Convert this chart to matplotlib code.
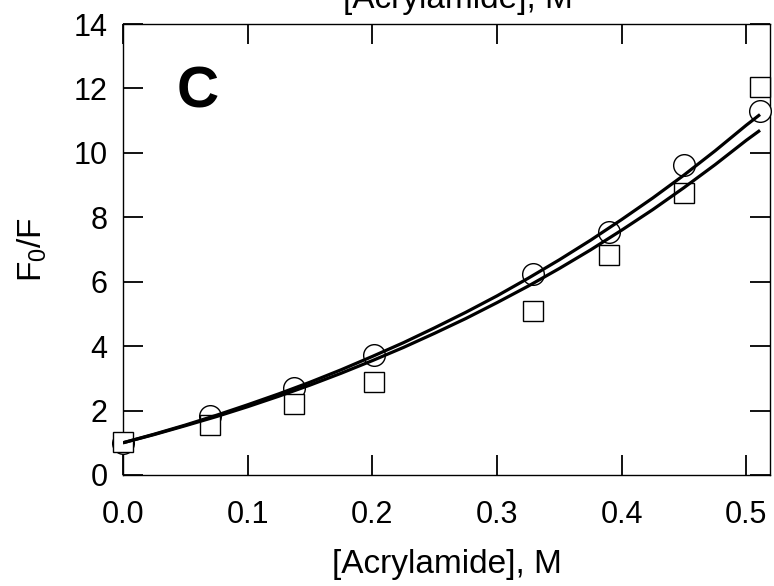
import matplotlib
matplotlib.use("Agg")
import matplotlib.pyplot as plt

plt.rcParams['font.family'] = ['Liberation Sans', 'DejaVu Sans']
plt.rcParams['mathtext.fontset'] = 'custom'
plt.rcParams['mathtext.rm'] = 'Liberation Sans'

# Data
conc = [0.0, 0.07, 0.137, 0.201, 0.329, 0.39, 0.45, 0.511]
circles = [1.0, 1.84, 2.71, 3.72, 6.25, 7.55, 9.63, 11.3]
squares = [1.02, 1.55, 2.19, 2.88, 5.1, 6.84, 8.75, 12.05]

fit_x = [0.0, 0.025, 0.05, 0.075, 0.1, 0.125, 0.15, 0.175, 0.2, 0.225, 0.25,
         0.275, 0.3, 0.325, 0.35, 0.375, 0.4, 0.425, 0.45, 0.475, 0.5, 0.511]
fit_upper = [1.0, 1.267, 1.55, 1.855, 2.18, 2.519, 2.88, 3.267, 3.68, 4.108,
             4.57, 5.051, 5.56, 6.107, 6.68, 7.286, 7.93, 8.60, 9.31, 10.064,
             10.86, 11.19]
fit_lower = [1.0, 1.255, 1.53, 1.814, 2.12, 2.446, 2.79, 3.159, 3.55, 3.96,
             4.40, 4.858, 5.35, 5.863, 6.41, 6.986, 7.60, 8.239, 8.92, 9.634,
             10.39, 10.70]

xticks = [0.0, 0.1, 0.2, 0.3, 0.4, 0.5]
yticks = [0, 2, 4, 6, 8, 10, 12, 14]

fig = plt.figure(figsize=(7.74, 5.86), dpi=100)
ax = fig.add_axes([123/774, 1-475/586, (770-123)/774, (475-24)/586])

ax.plot(conc, circles, 'o', ms=15.6, mfc='white', mec='black', mew=1.0,
        clip_on=False, zorder=3)
ax.plot(conc, squares, 's', ms=13.9, mfc='white', mec='black', mew=1.0,
        clip_on=False, zorder=4)
ax.plot(fit_x, fit_upper, '-', color='black', lw=2.3, zorder=5,
        solid_capstyle='butt')
ax.plot(fit_x, fit_lower, '-', color='black', lw=2.3, zorder=5,
        solid_capstyle='butt')

ax.set_xlim(0, 0.519)
ax.set_ylim(0, 14)
ax.set_xticks(xticks)
ax.set_xticklabels([f"{t:.1f}" for t in xticks])
ax.set_yticks(yticks)
ax.set_yticklabels([str(t) for t in yticks])

ax.tick_params(axis='both', which='major', direction='in', length=14.4,
               width=1.3, labelsize=22, top=True, right=True, color='black')
ax.tick_params(axis='x', pad=18)
ax.tick_params(axis='y', pad=11)
for s in ax.spines.values():
    s.set_linewidth(1.0)

ax.set_xlabel('[Acrylamide], M', fontsize=24, labelpad=14)
ax.set_ylabel(r'$\mathregular{F_0/F}$', fontsize=24, labelpad=18)

ax.text(198/774, 1-92/586, 'C', transform=fig.transFigure, fontsize=42,
        fontweight='bold', ha='center', va='center')
fig.text(458/774, 1-8/586, '[Acrylamide], M', fontsize=24,
         ha='center', va='baseline')

fig.savefig('out.png', dpi=100)
